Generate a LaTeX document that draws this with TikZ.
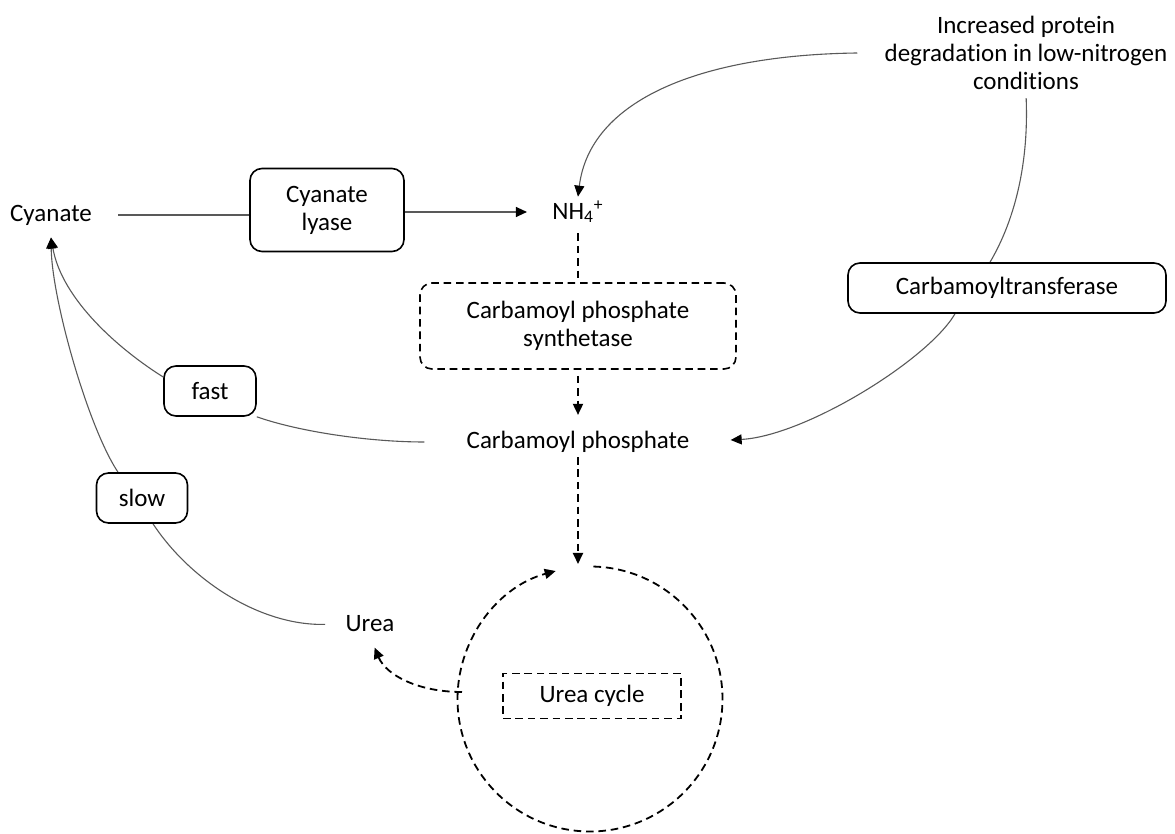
\documentclass[tikz,border=0pt]{standalone}
\usepackage{fontspec}
\setmainfont[Ligatures=NoCommon]{Carlito}
\usetikzlibrary{arrows.meta,backgrounds}

\begin{document}
\begin{tikzpicture}[
    x=0.5pt, y=-0.5pt,
    font=\fontsize{12.5}{14}\selectfont,
    species/.style={align=center, inner sep=2pt},
    enzyme/.style={rectangle, draw, line width=0.8pt, fill=white, rounded corners=6pt, align=center, inner sep=2pt},
    dashbox/.style={enzyme, dash pattern=on 3.8pt off 2.4pt},
    link/.style={draw=black!65, line width=0.55pt},
    arrow/.style={link, -{Triangle[length=5.5pt, width=5pt, color=black]}},
    dasharrow/.style={line width=0.9pt, dash pattern=on 3.8pt off 2.4pt, -{Triangle[length=5.5pt, width=5pt]}}
]
\useasboundingbox (0,0) rectangle (1175,834);

% Metabolites
\node[species] (cyanate) at (51,215) {Cyanate};
\node[species] (nh) at (578,212) {NH\textsubscript{4}\textsuperscript{+}};
\node[species] (cp) at (578,442) {Carbamoyl phosphate};
\node[species] (urea) at (370,624) {Urea};
\node[species] (protein) at (1026,53) {Increased protein\\degradation in low-nitrogen\\conditions};

% Enzymes
\node[enzyme, minimum width=77pt, minimum height=41.5pt] (lyase) at (327,210) {Cyanate\\lyase};
\node[dashbox, minimum width=158pt, minimum height=43pt] (cps) at (578,326) {Carbamoyl phosphate\\synthetase};
\node[enzyme, minimum width=159pt, minimum height=25pt] (trans) at (1007,288) {Carbamoyltransferase};

% Rates of breakdown
\node[enzyme, minimum width=46pt, minimum height=25pt] (fast) at (210,391) {fast};
\node[enzyme, minimum width=45.5pt, minimum height=25pt] (slow) at (142,498) {slow};

% Urea cycle
\coordinate (ucentre) at (590,699);
\coordinate (ctop) at (578,564);
\coordinate (cleft) at (462,692);
\node[dashbox, rounded corners=0pt, minimum width=89pt, minimum height=22.5pt] (ucycle) at (592,696) {Urea cycle};
\draw[dasharrow] (ucentre) ++(-88.5:132.5) arc[start angle=-88.5, end angle=255, radius=132.5];

\begin{scope}[on background layer]
% Cyanate lyase route
\draw[link, shorten <=11pt] (cyanate.east) -- (cyanate.east -| lyase.west);
\draw[arrow, shorten >=10.5pt] (lyase.east |- nh.west) -- (nh.west);

% Ammonium from protein breakdown
\draw[arrow] ([xshift=-11.5pt]protein.west) .. controls (700,55) and (590,100) .. (nh.north);

% Carbamoyl phosphate synthesis
\draw[dasharrow, -] ([yshift=-3pt]nh.south) -- (cps.north);
\draw[dasharrow, shorten <=3pt, shorten >=6pt] (cps.south) -- (cp.north);
\draw[link, shorten <=2pt] (protein.south) .. controls (1029,170) and (1012,225) .. ([xshift=-8.5pt]trans.north);
\draw[arrow, shorten >=18.5pt] ([xshift=-26pt]trans.south) .. controls (928,360) and (805,436) .. (cp.east);

% Into the urea cycle and out
\draw[dasharrow] (cp.south) -- (ctop);
\draw[dasharrow, shorten >=6pt] (cleft) .. controls (418,692) and (386,675) .. (urea.south);

% Back to cyanate
\draw[link, shorten <=19pt] (cp.west) .. controls (370,442) and (300,432) .. (fast.south east);
\draw[arrow] ([yshift=7pt]fast.west) .. controls (120,350) and (62,300) .. ([yshift=-4pt]cyanate.south);
\draw[link, shorten <=8pt] (urea.west) .. controls (260,626) and (190,580) .. ([xshift=5.5pt]slow.south);
\draw[arrow] ([xshift=-12pt]slow.north) .. controls (88,427) and (52,300) .. ([yshift=-4pt]cyanate.south);
\end{scope}

\end{tikzpicture}
\end{document}
